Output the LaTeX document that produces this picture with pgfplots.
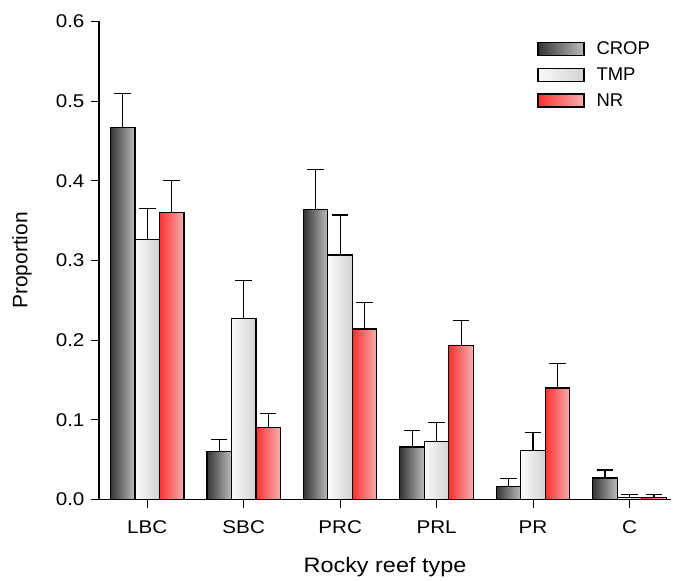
\documentclass[border=0pt]{standalone}
\usepackage{pgfplots}
\pgfplotsset{compat=1.18}
\usepackage{fontspec}
\setmainfont{Liberation Sans}
\newfontfamily\widefont[FakeStretch=1.12]{Liberation Sans}
\definecolor{cropL}{HTML}{353535}
\definecolor{cropR}{HTML}{BDBDBD}
\definecolor{tmpL}{HTML}{FAFAFA}
\definecolor{tmpR}{HTML}{D2D2D2}
\definecolor{nrL}{HTML}{FF3030}
\definecolor{nrR}{HTML}{F2B0B0}
\pgfplotsset{
  crop/.style={draw=black, line width=1.2bp, left color=cropL, right color=cropR},
  tmp/.style={draw=black, line width=1.2bp, left color=tmpL, right color=tmpR},
  nr/.style={draw=black, line width=1.2bp, left color=nrL, right color=nrR},
  mylegend/.style={legend image code/.code={\draw[##1, line width=1.2bp] (0bp,-6.5bp) rectangle (46bp,6.5bp); \path (56bp,0bp);}},
}
% one bar: style, shift, x, value, error
\newcommand\bbar[5]{\addplot[#1, bar shift=#2, forget plot] coordinates {(#3,#4) +- (0,#5)};}
\begin{document}
\begin{tikzpicture}
\begin{axis}[
  at={(0,0)}, anchor=south west,
  scale only axis,
  width=572bp, height=478bp,
  xmin=-0.5, xmax=5.43,
  ymin=0, ymax=0.6,
  axis lines*=left,
  axis line style={line width=1.1bp, black},
  ybar=0pt,
  bar width=24.5bp,
  xtick={0,1,2,3,4,5},
  xticklabels={LBC,SBC,PRC,PRL,PR,C},
  ytick={0,0.1,0.2,0.3,0.4,0.5,0.6},
  yticklabel style={/pgf/number format/fixed,/pgf/number format/precision=1,/pgf/number format/fixed zerofill},
  /pgf/number format/assume math mode=true,
  tick align=outside,
  major tick length=8bp,
  tick style={line width=1bp, black},
  ticklabel style={font=\widefont\fontsize{18.5}{21}\selectfont},
  xticklabel style={yshift=-10bp},
  yticklabel style={xshift=-3bp},
  xlabel={Rocky reef type},
  ylabel={Proportion},
  every axis x label/.style={at={(axis description cs:0.5,0)}, yshift=-68bp, anchor=center, font=\widefont\fontsize{21}{24}\selectfont},
  every axis y label/.style={at={(axis description cs:0,0.5)}, xshift=-77bp, rotate=90, anchor=center, font=\fontsize{21}{24}\selectfont},
  legend style={at={(0.766,0.962)}, anchor=north west, draw=none, fill=none,
    font=\fontsize{18.5}{21}\selectfont, row sep=7.5bp, inner sep=0pt},
  legend cell align=left,
  error bars/y dir=plus,
  error bars/y explicit,
  error bars/error bar style={line width=1.2bp, black},
  error bars/error mark options={rotate=90, mark size=8.3bp, line width=1.2bp, black},
]
% CROP
\bbar{crop}{-24.5bp}{0}{0.467}{0.043}
\bbar{crop}{-24.5bp}{1}{0.060}{0.015}
\bbar{crop}{-24.5bp}{2}{0.364}{0.050}
\bbar{crop}{-24.5bp}{3}{0.066}{0.021}
\bbar{crop}{-24.5bp}{4}{0.016}{0.010}
\bbar{crop}{-24.5bp}{5}{0.027}{0.010}
% TMP
\bbar{tmp}{0bp}{0}{0.326}{0.039}
\bbar{tmp}{0bp}{1}{0.227}{0.048}
\bbar{tmp}{0bp}{2}{0.307}{0.050}
\bbar{tmp}{0bp}{3}{0.073}{0.024}
\bbar{tmp}{0bp}{4}{0.062}{0.022}
\bbar{tmp}{0bp}{5}{0.003}{0.003}
% NR
\bbar{nr}{24.5bp}{0}{0.360}{0.040}
\bbar{nr}{24.5bp}{1}{0.090}{0.018}
\bbar{nr}{24.5bp}{2}{0.214}{0.033}
\bbar{nr}{24.5bp}{3}{0.193}{0.032}
\bbar{nr}{24.5bp}{4}{0.140}{0.031}
\bbar{nr}{24.5bp}{5}{0.003}{0.003}
\addlegendimage{crop, mylegend}
\addlegendentry{CROP}
\addlegendimage{tmp, mylegend}
\addlegendentry{TMP}
\addlegendimage{nr, mylegend}
\addlegendentry{NR}
\end{axis}
\pgfresetboundingbox
\path[use as bounding box] (-99bp,-81.5bp) rectangle (574bp,499.5bp);
\end{tikzpicture}
\end{document}
